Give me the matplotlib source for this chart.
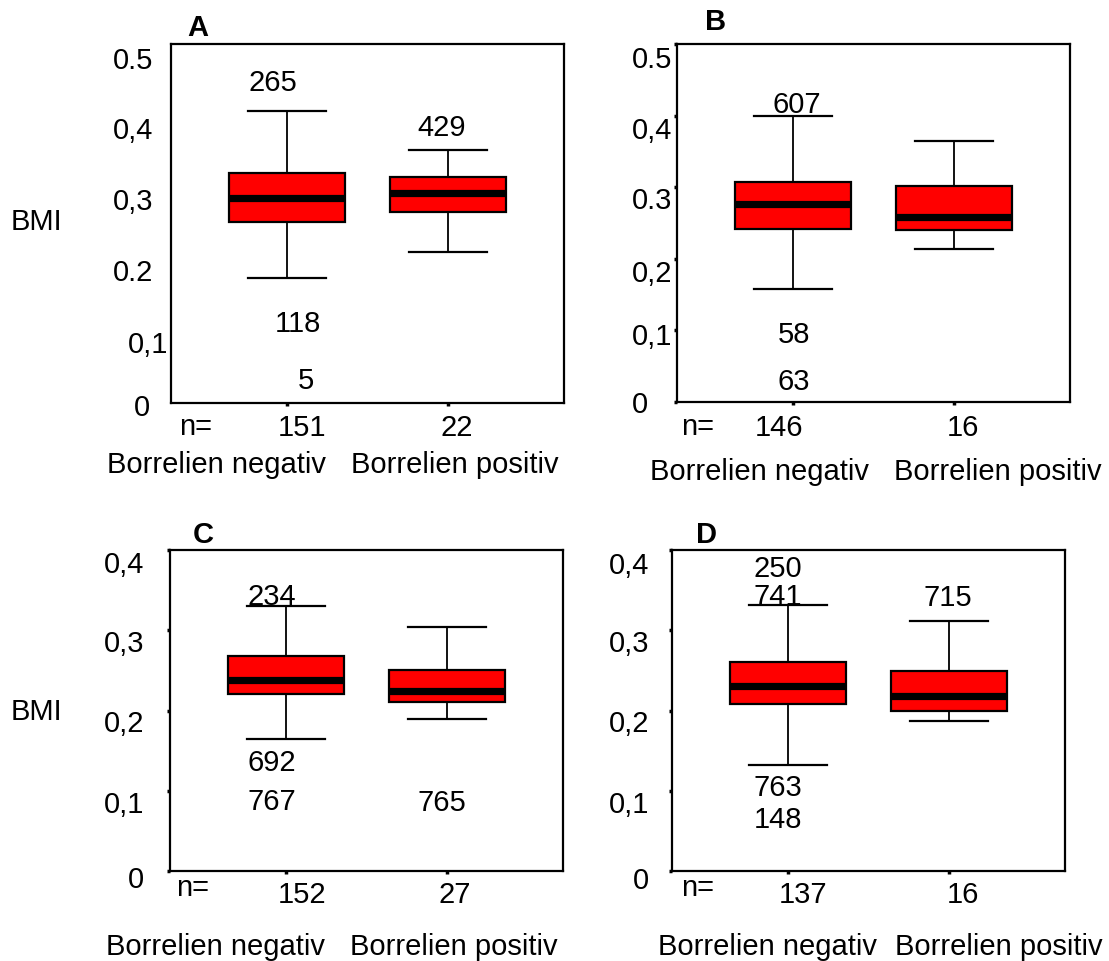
import numpy as np
import matplotlib.pyplot as plt
import matplotlib.transforms as mtransforms

plt.rcParams['font.family'] = ['Liberation Sans', 'DejaVu Sans']

groups = ['Borrelien negativ', 'Borrelien positiv']
panels = ['A', 'B', 'C', 'D']

# box summaries per panel, [negativ, positiv]
whislo = {'A': [0.174, 0.210], 'B': [0.158, 0.214], 'C': [0.164, 0.189], 'D': [0.1325, 0.1875]}
q1 = {'A': [0.252, 0.266], 'B': [0.242, 0.240], 'C': [0.220, 0.210], 'D': [0.2075, 0.199]}
med = {'A': [0.286, 0.292], 'B': [0.277, 0.258], 'C': [0.2375, 0.224], 'D': [0.231, 0.2175]}
q3 = {'A': [0.320, 0.315], 'B': [0.307, 0.302], 'C': [0.2675, 0.250], 'D': [0.260, 0.249]}
whishi = {'A': [0.407, 0.352], 'B': [0.399, 0.365], 'C': [0.330, 0.304], 'D': [0.331, 0.311]}
n_cases = {'A': [151, 22], 'B': [146, 16], 'C': [152, 27], 'D': [137, 16]}

# labelled outliers: (group index, case id, value)
outliers = {
    'A': [(0, '265', 0.447), (1, '429', 0.384), (0, '118', 0.111), (0, '5', 0.032)],
    'B': [(0, '607', 0.416), (0, '58', 0.095), (0, '63', 0.029)],
    'C': [(0, '234', 0.3425), (0, '692', 0.136), (0, '767', 0.0875), (1, '765', 0.086)],
    'D': [(0, '250', 0.377), (0, '741', 0.343), (1, '715', 0.341), (0, '763', 0.105), (0, '148', 0.065)],
}

ytick_vals = {'A': [0, 0.1, 0.2, 0.3, 0.4, 0.5], 'B': [0, 0.1, 0.2, 0.3, 0.4, 0.5],
              'C': [0, 0.1, 0.2, 0.3, 0.4], 'D': [0, 0.1, 0.2, 0.3, 0.4]}
ytick_text = {'A': ['0', '0,1', '0.2', '0,3', '0,4', '0.5'],
              'B': ['0', '0,1', '0,2', '0.3', '0,4', '0.5'],
              'C': ['0', '0,1', '0,2', '0,3', '0,4'],
              'D': ['0', '0,1', '0,2', '0,3', '0,4']}
ylims = {'A': 0.5, 'B': 0.5, 'C': 0.4, 'D': 0.4}

# layout (pixels at dpi 100)
W, H = 1109, 962
boxes_px = {'A': (171, 45, 564, 404), 'B': (677, 45, 1070, 403),
            'C': (170, 551, 563, 872), 'D': (672, 551, 1065, 872)}
outlier_dx = {'A': [-14, -6, 11, 19], 'B': [4, 1, 1], 'C': [-14, -14, -14, -5], 'D': [-10, -10, -1, -10, -10]}
label_dy = {'A': [1, 10, 10, 10, 11, 13], 'B': [-1, 3, 11, 10, 11, 12],
            'C': [5, 10, 10, 10, 11], 'D': [6, 10, 10, 10, 12]}
label_dx = {'A': [-3, 15, 0, 0, 0, 0], 'B': [-24, 0, 0, 0, 0, 0], 'C': [0] * 5, 'D': [0] * 5}
label_pad = {'A': 13, 'B': 1.5, 'C': 16, 'D': 14}
ytick_len = {'A': 0, 'B': 2, 'C': 2.5, 'D': 2.5}
n_x = {'A': [1.093, 2.056], 'B': [0.913, 2.056], 'C': [1.10, 2.05], 'D': [1.094, 2.088]}
neq_x = {'A': 0.43, 'B': 0.41, 'C': 0.42, 'D': 0.44}
grp_x = {'A': [0.56, 2.04], 'B': [0.79, 2.27], 'C': [0.56, 2.04], 'D': [0.87, 2.31]}
row_y = {'A': (-0.064, -0.067, -0.17), 'B': (-0.067, -0.07, -0.193),
         'C': (-0.05, -0.072, -0.234), 'D': (-0.05, -0.072, -0.234)}
letter_xy = {'A': (0.069, 1.047), 'B': (0.097, 1.064), 'C': (0.084, 1.05), 'D': (0.089, 1.05)}

fs = 21
fig = plt.figure(figsize=(W / 100, H / 100), dpi=100)

for p in panels:
    l, t, r, b = boxes_px[p]
    ax = fig.add_axes([l / W, 1 - b / H, (r - l) / W, (b - t) / H])
    stats = []
    for i in range(2):
        stats.append({'med': med[p][i], 'q1': q1[p][i], 'q3': q3[p][i],
                      'whislo': whislo[p][i], 'whishi': whishi[p][i], 'fliers': []})
    ax.bxp(stats, positions=[1, 2], widths=0.72, capwidths=0.49, patch_artist=True,
           showfliers=False,
           boxprops=dict(facecolor='#ff0000', edgecolor='black', linewidth=1.6),
           medianprops=dict(color='black', linewidth=5.2, solid_capstyle='butt'),
           whiskerprops=dict(color='black', linewidth=1.3),
           capprops=dict(color='black', linewidth=1.6))
    ax.set_xlim(0.28, 2.72)
    ax.set_ylim(0, ylims[p])
    for s in ax.spines.values():
        s.set_linewidth(1.6)

    ax.set_xticks([1, 2])
    ax.set_xticklabels(['', ''])
    ax.tick_params(axis='x', length=2, width=2.5, direction='out')
    ax.set_yticks(ytick_vals[p])
    ax.set_yticklabels(ytick_text[p], fontsize=fs)
    ax.tick_params(axis='y', length=ytick_len[p], width=2.5, direction='out', pad=label_pad[p])
    for lab, dx, dy in zip(ax.get_yticklabels(), label_dx[p], label_dy[p]):
        lab.set_transform(lab.get_transform() +
                          mtransforms.ScaledTranslation(dx / 100, -dy / 100, fig.dpi_scale_trans))

    for (g, cid, val), dx in zip(outliers[p], outlier_dx[p]):
        tr = ax.transData + mtransforms.ScaledTranslation(dx / 100, 0, fig.dpi_scale_trans)
        ax.text(g + 1, val, cid, transform=tr, ha='center', va='center', fontsize=fs)

    bt = ax.get_xaxis_transform()
    y_neq, y_n, y_grp = row_y[p]
    ax.text(neq_x[p], y_neq, 'n=', transform=bt, ha='center', va='center', fontsize=fs)
    for i in range(2):
        ax.text(n_x[p][i], y_n, str(n_cases[p][i]), transform=bt, ha='center', va='center', fontsize=fs)
        ax.text(grp_x[p][i], y_grp, groups[i], transform=bt, ha='center', va='center', fontsize=fs)
    ax.text(letter_xy[p][0], letter_xy[p][1], p, transform=ax.transAxes, ha='center', va='center',
            fontsize=fs, fontweight='bold')

fig.text(36 / W, 1 - 222 / H, 'BMI', ha='center', va='center', fontsize=fs)
fig.text(36 / W, 1 - 712 / H, 'BMI', ha='center', va='center', fontsize=fs)

fig.savefig('out.png', dpi=100)
